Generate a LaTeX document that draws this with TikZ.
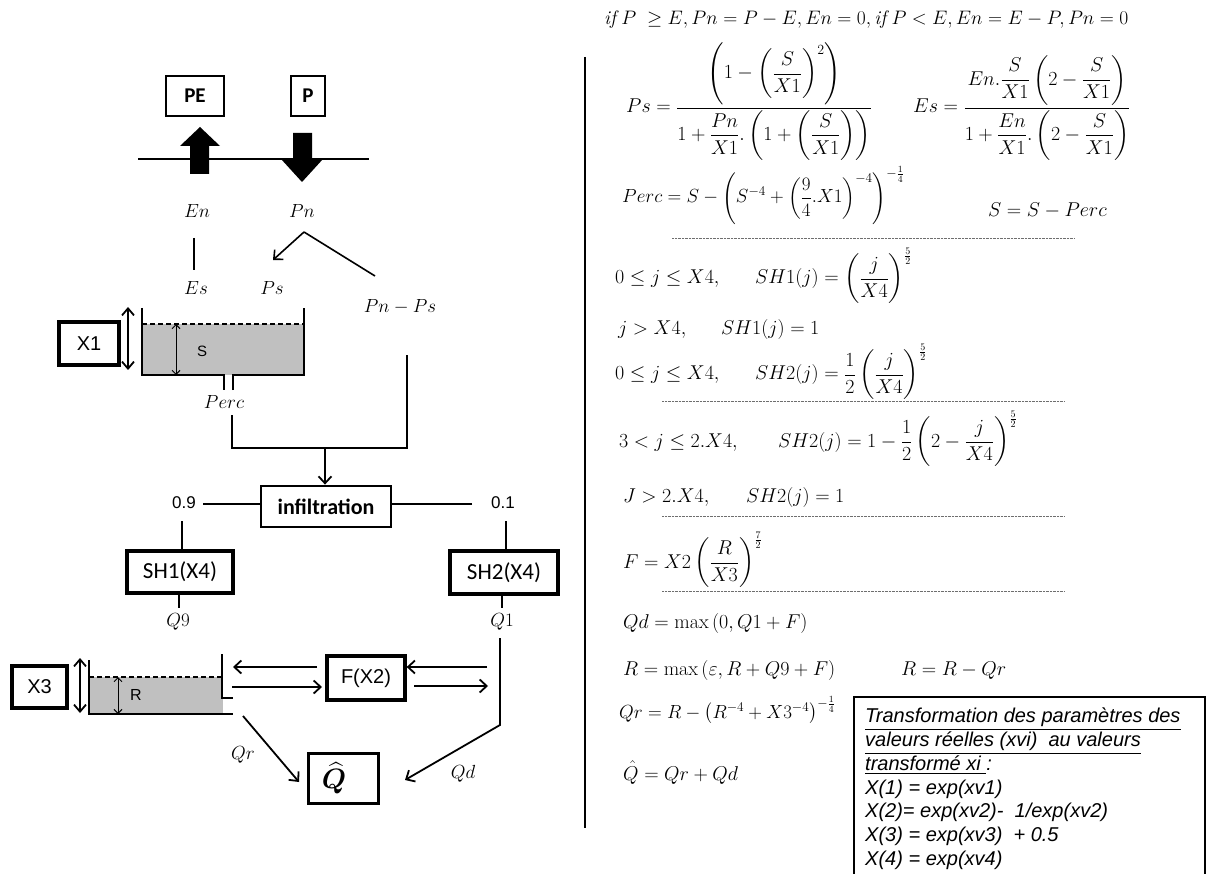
\RequirePackage{fix-cm}
\documentclass[tikz,border=0pt]{standalone}
\usepackage{amsmath}
\usepackage{fontspec}
\newfontfamily\califont{Carlito}
\newfontfamily\arialfont{Liberation Sans}
\usetikzlibrary{arrows.meta}
\definecolor{tankgray}{RGB}{192,192,192}
\definecolor{dotgray}{RGB}{110,110,110}
\begin{document}
\begin{tikzpicture}[x=1pt,y=-1pt,
  thinbox/.style={draw, line width=1.3pt, inner sep=0pt, font=\califont\bfseries\fontsize{21}{24}\selectfont},
  thickbox/.style={draw, line width=3.3pt, inner sep=0pt},
  calib/.style={font=\califont\fontsize{23}{26}\selectfont},
  arial/.style={font=\arialfont\fontsize{20}{24}\selectfont},
  lab/.style={inner sep=0pt, font=\fontsize{19}{23}\selectfont},
  eq/.style={inner sep=0pt, anchor=base west, font=\fontsize{20}{24}\selectfont},
  boxline/.style={inner sep=0pt, anchor=base west, font=\arialfont\itshape\fontsize{20}{24}\selectfont},
  conn/.style={line width=1.8pt},
  flow/.style={line width=1.8pt, -{Straight Barb[length=7pt,width=13pt]}},
  dimarrow/.style={line width=1pt, {Straight Barb[length=4pt,width=8pt]}-{Straight Barb[length=4pt,width=8pt]}},
  bigdim/.style={line width=1.8pt, {Straight Barb[length=7pt,width=12pt]}-{Straight Barb[length=7pt,width=12pt]}},
  dotline/.style={line width=0.8pt, dotgray, dash pattern=on 0.8pt off 0.6pt}
]
\useasboundingbox (0,0) rectangle (1207,874);
\fill[white] (0,0) rectangle (1207,874);

% ---------- top inputs ----------
\node[thinbox, minimum width=58pt, minimum height=40pt] (PE) at (195,96) {PE};
\node[thinbox, minimum width=34pt, minimum height=40pt] (P) at (308,96) {P};
\coordinate (gl) at (138,159);
\coordinate (gr) at (369,159);
\draw[conn] (gl) -- (gr);
\fill (190,174) -- (190,146) -- (180,146) -- (200,127) -- (220,146) -- (209,146) -- (209,174) -- cycle;
\fill (293,133) -- (312,133) -- (312,159) -- (323,159) -- (302,182) -- (281,159) -- (293,159) -- cycle;

\node[lab] (En) at (197,211) {$En$};
\node[lab] (Pn) at (302,211) {$Pn$};
\node[lab] (Es) at (196,288) {$Es$};
\node[lab] (Ps) at (272,288) {$Ps$};
\node[lab] (PnPs) at (400,307) {$Pn-Ps$};
\node[lab] (Perc) at (224,402) {$Perc$};

\coordinate (enA) at (194,238);
\coordinate (enB) at (194,270);
\draw[line width=1.6pt] (enA) -- (enB);
\coordinate (pnA) at (304,232);
\coordinate (psIn) at (273,260);
\coordinate (pnpsIn) at (375,276);
\draw[flow, line width=1.6pt] (pnA) -- (psIn);
\draw[line width=1.6pt] (pnA) -- (pnpsIn);

% ---------- production store ----------
\fill[tankgray] (142,324) rectangle (304,375);
\draw[conn, dash pattern=on 5pt off 3pt] (142,324) -- (304,324);
\draw[conn] (142,308) -- (142,375) -- (224,375) -- (224,390);
\draw[conn] (233,390) -- (233,375) -- (304,375) -- (304,308);
\draw[dimarrow] (176,324) -- (176,375);
\node[inner sep=0pt, font=\arialfont\fontsize{15}{18}\selectfont] (S) at (202,351) {S};
\draw[bigdim] (128,307) -- (128,370);
\node[thickbox, line width=4pt, minimum width=60pt, minimum height=43pt, arial] (X1) at (89,343.5) {X1};

% ---------- to infiltration ----------
\node[thickbox, line width=2.8pt, minimum width=130pt, minimum height=41pt, font=\califont\bfseries\fontsize{22}{26}\selectfont] (inf) at (326,506.5) {infiltration};
\coordinate (percOut) at (232,415);
\coordinate (percC) at (232,448);
\coordinate (pnpsOut) at (407,355);
\coordinate (pnpsC) at (407,448);
\coordinate (junc) at (325,448);
\draw[conn] (percOut) -- (percC) -- (pnpsC) -- (pnpsOut);
\draw[flow] (junc) -- (junc |- inf.north);

\node[inner sep=0pt, font=\arialfont\fontsize{17}{20}\selectfont] (n09) at (184,503) {0.9};
\node[inner sep=0pt, font=\arialfont\fontsize{17}{20}\selectfont] (n01) at (503,503) {0.1};
\coordinate (l09) at (203,504);
\coordinate (l01) at (472,504);
\draw[conn] (l09) -- (l09 -| inf.west);
\draw[conn] (l01) -- (l01 -| inf.east);

\node[thickbox, minimum width=106pt, minimum height=42pt, calib] (SH1) at (180,572) {SH1(X4)};
\node[thickbox, minimum width=108pt, minimum height=43pt, calib] (SH2) at (504,572.5) {SH2(X4)};
\coordinate (a09) at (182,521);
\coordinate (a01) at (506,521);
\draw[conn] (a09) -- (a09 |- SH1.north);
\draw[conn] (a01) -- (a01 |- SH2.north);

\node[lab] (Q9) at (178,622) {$Q9$};
\node[lab] (Q1) at (502,622) {$Q1$};
\coordinate (q9s) at (179,608);
\coordinate (q1s) at (502,608);
\draw[conn] (q9s |- SH1.south) -- (q9s);
\draw[conn] (q1s |- SH2.south) -- (q1s);

% ---------- routing store ----------
\fill[tankgray] (89,677) rectangle (223,714);
\draw[conn, dash pattern=on 5pt off 3pt] (89,677) -- (222,677);
\draw[conn] (89,660) -- (89,714) -- (233,714);
\draw[conn] (222,654) -- (222,698) -- (233,698);
\draw[dimarrow] (118,677) -- (118,714);
\node[inner sep=0pt, font=\arialfont\fontsize{16}{19}\selectfont] (R) at (136,695) {R};
\draw[bigdim] (80,658) -- (80,713);
\node[thickbox, line width=4pt, minimum width=55pt, minimum height=42pt, arial] (X3) at (39.5,687) {X3};

\node[thickbox, minimum width=78pt, minimum height=44pt, arial] (F) at (366,678) {F(X2)};
\coordinate (fla) at (317,667);
\coordinate (flb) at (233,667);
\coordinate (flc) at (232,687);
\coordinate (fld) at (322,687);
\coordinate (fra) at (487,667);
\coordinate (frc) at (414,686);
\coordinate (frd) at (488,686);
\draw[flow] (fla) -- (flb);
\draw[flow] (flc) -- (fld);
\draw[flow] (fra) -- (fra -| F.east);
\draw[flow] (frc) -- (frd);

\node[thickbox, line width=3pt, minimum width=70pt, minimum height=50pt, font=\fontsize{28}{30}\selectfont] (Qh) at (343,778) {$\boldsymbol{\widehat{Q}}$\hspace*{18pt}};
\coordinate (q1top) at (500,638);
\coordinate (q1bend) at (500,725);
\coordinate (qdTip) at (405,780);
\draw[flow] (q1top) -- (q1bend) -- (qdTip);
\coordinate (qrS) at (243,716);
\coordinate (qrT) at (299,782);
\draw[flow] (qrS) -- (qrT);
\node[lab] (Qr) at (243,755) {$Qr$};
\node[lab] (Qd) at (463,774) {$Qd$};

% ---------- separator ----------
\coordinate (sepT) at (585,57);
\coordinate (sepB) at (585,828);
\draw[line width=2pt] (sepT) -- (sepB);

% ---------- equations ----------
\node[eq, font=\fontsize{19.5}{23}\selectfont] (e0) at (604,25) {$\mathit{if}\;P\;\geq E,Pn=P-E,En=0,\mathit{if}\;P<E,En=E-P,Pn=0$};
\node[eq] (ePs) at (626,113) {$Ps=\dfrac{\left(1-\left(\dfrac{S}{X1}\right)^{2}\right)}{1+\dfrac{Pn}{X1}.\left(1+\left(\dfrac{S}{X1}\right)\right)}$};
\node[eq] (eEs) at (913,113) {$Es=\dfrac{En.\dfrac{S}{X1}\left(2-\dfrac{S}{X1}\right)}{1+\dfrac{En}{X1}.\left(2-\dfrac{S}{X1}\right)}$};
\node[eq, font=\fontsize{19}{23}\selectfont] (ePerc) at (622,203) {$\displaystyle Perc=S-\left(S^{-4}+\left(\frac{9}{4}.X1\right)^{-4}\right)^{-\frac{1}{4}}$};
\node[eq] (eS) at (988,217) {$S=S-Perc$};
\draw[dotline] (672,238) -- (1074,238);

\node[eq] (c1) at (615,284) {$0\leq j\leq X4,$};
\node[eq] (f1) at (755,284) {$SH1(j)=\left(\dfrac{j}{X4}\right)^{\frac{5}{2}}$};
\node[eq] (c2) at (618,335) {$j>X4,$};
\node[eq] (f2) at (721,335) {$SH1(j)=1$};
\node[eq] (c3) at (615,380) {$0\leq j\leq X4,$};
\node[eq] (f3) at (755,380) {$SH2(j)=\dfrac{1}{2}\left(\dfrac{j}{X4}\right)^{\frac{5}{2}}$};
\draw[dotline] (662,401) -- (1064,401);
\node[eq] (c4) at (619,447) {$3<j\leq 2.X4,$};
\node[eq] (f4) at (778,447) {$SH2(j)=1-\dfrac{1}{2}\left(2-\dfrac{j}{X4}\right)^{\frac{5}{2}}$};
\node[eq] (c5) at (623,502) {$J>2.X4,$};
\node[eq] (f5) at (746,502) {$SH2(j)=1$};
\draw[dotline] (662,516) -- (1064,516);
\node[eq] (eF) at (623,568) {$F=X2\left(\dfrac{R}{X3}\right)^{\frac{7}{2}}$};
\draw[dotline] (662,591) -- (1064,591);
\node[eq] (eQd) at (623,628) {$Qd=\max\,(0,Q1+F)$};
\node[eq] (eR) at (623,675) {$R=\max\,(\varepsilon,R+Q9+F)$};
\node[eq] (eR2) at (901,675) {$R=R-Qr$};
\node[eq, font=\fontsize{19}{23}\selectfont] (eQr) at (619,718) {$Qr=R-\left(R^{-4}+X3^{-4}\right)^{-\frac{1}{4}}$};
\node[eq] (eQh) at (623,780) {$\hat{Q}=Qr+Qd$};

% ---------- transformation box ----------
\coordinate (bxBL) at (854,880);
\coordinate (bxTL) at (854,697);
\coordinate (bxTR) at (1205,697);
\coordinate (bxBR) at (1205,880);
\draw[line width=1.2pt] (bxBL) -- (bxTL) -- (bxTR) -- (bxBR);
\node[boxline] (t1) at (865,722) {\underline{Transformation des paramètres des}};
\node[boxline] (t2) at (865,746) {\underline{valeurs réelles (xvi)\ \ au valeurs}};
\node[boxline] (t3) at (865,770) {\underline{transformé xi }:};
\node[boxline] (t4) at (865,794) {X(1) = exp(xv1)};
\node[boxline] (t5) at (865,817) {X(2)= exp(xv2)- \ 1/exp(xv2)};
\node[boxline] (t6) at (865,841) {X(3) = exp(xv3) \ + 0.5};
\node[boxline] (t7) at (865,865) {X(4) = exp(xv4)};
\end{tikzpicture}
\end{document}
